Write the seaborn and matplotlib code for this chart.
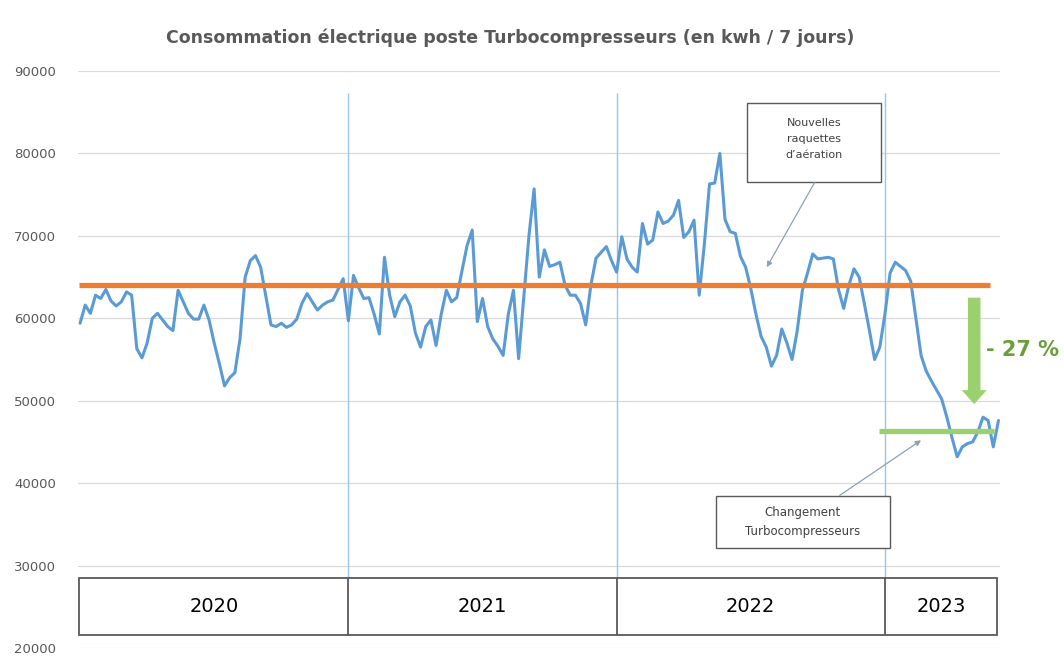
import numpy as np
import pandas as pd
import matplotlib
matplotlib.use('Agg')
import matplotlib.pyplot as plt
import seaborn as sns
from matplotlib.patches import Rectangle

# consommation hebdomadaire (kwh / 7 jours), de janvier 2020 a mai 2023
conso = [59400, 61600, 60600, 62800, 62400, 63500, 62100, 61500, 62000, 63200,
         62800, 56300, 55200, 57000, 60000, 60600, 59800, 59000, 58500, 63400,
         62000, 60600, 59900, 59900, 61600, 59800, 57000, 54500, 51800, 52800,
         53400, 57500, 65000, 67000, 67600, 66200, 62700, 59200, 59000, 59400,
         58900, 59200, 59900, 61800, 63000, 62000, 61000, 61600, 62000, 62200,
         63500, 64800, 59700, 65200, 63700, 62400, 62500, 60500, 58100, 67400,
         62800, 60200, 62000, 62800, 61500, 58200, 56500, 59000, 59800, 56700,
         60500, 63400, 62000, 62500, 65700, 68800, 70700, 59600, 62400, 59000,
         57500, 56600, 55500, 60500, 63400, 55100, 62500, 70000, 75700, 65000,
         68300, 66300, 66500, 66800, 64000, 62800, 62800, 61800, 59200, 64000,
         67300, 68000, 68700, 67000, 65600, 69900, 67200, 66200, 65600, 71500,
         69000, 69500, 72900, 71500, 71800, 72500, 74300, 69800, 70500, 71900,
         62800, 69000, 76300, 76400, 80000, 72000, 70500, 70300, 67500, 66200,
         63600, 60500, 57800, 56500, 54200, 55500, 58700, 57000, 55000, 58500,
         63400, 65500, 67800, 67200, 67300, 67400, 67200, 63500, 61200, 64000,
         66000, 65000, 61800, 58500, 55000, 56500, 60500, 65500, 66800, 66300,
         65800, 64500, 60000, 55500, 53600, 52400, 51300, 50200, 48000, 45500,
         43200, 44400, 44800, 45000, 46200, 48000, 47600, 44400, 47600]

annees = ['2020', '2021', '2022', '2023']
debut_annees = [0, 52, 104, 156]      # semaine de debut de chaque annee
fin_donnees = 177.8
ref_avant = 64000                     # niveau moyen avant changement
ref_apres = 46300                     # niveau apres changement
baisse = '- 27 %'
yticks = [20000, 30000, 40000, 50000, 60000, 70000, 80000, 90000]

df = pd.DataFrame({'semaine': np.arange(len(conso)), 'conso': conso})

sns.set_theme(style='white')
plt.rcParams['font.family'] = ['DejaVu Sans']

gris = '#595959'
bleu = '#5B9BD5'
orange = '#ED7D31'
vert = '#9BD06E'
vert_txt = '#6A9E3A'
fleche = '#8EA0B8'

fig = plt.figure(figsize=(10.64, 6.64), dpi=100)
ax = fig.add_axes([78 / 1064, 1 - 648 / 664, (1000 - 78) / 1064, (648 - 71) / 664])

# grille horizontale
ax.set_ylim(20000, 90000)
ax.set_xlim(-0.4, 178.3)
ax.set_yticks(yticks)
ax.set_yticklabels([str(v) for v in yticks], color=gris, fontsize=9.5)
ax.set_xticks([])
ax.yaxis.grid(True, color='#d9d9d9', lw=0.9)
ax.tick_params(axis='y', length=0, pad=16)
for s in ax.spines.values():
    s.set_visible(False)

# separateurs d'annees
ax.vlines(debut_annees[1:], 28450, 87300, color='#9DC3E6', lw=1, zorder=1)

# tableau des annees
ax.add_patch(Rectangle((-0.2, 21530), fin_donnees + 0.2, 6920, fill=False,
                       ec=gris, lw=1.3, zorder=3))
ax.vlines(debut_annees[1:], 21530, 28450, color=gris, lw=1.3, zorder=3)
bornes = debut_annees + [fin_donnees]
for i, a in enumerate(annees):
    ax.text((bornes[i] + bornes[i + 1]) / 2, 25000, a, ha='center', va='center',
            fontsize=14, color='black')

# courbe de consommation
sns.lineplot(data=df, x='semaine', y='conso', color=bleu, lw=2.2, ax=ax, zorder=4)
ax.set_xlabel('')
ax.set_ylabel('')

# niveaux de reference
ax.hlines(ref_avant, -0.2, 176.3, color=orange, lw=3.8, zorder=5)
ax.hlines(ref_apres, 154.9, 177.2, color=vert, lw=3.8, zorder=5)

# fleche de baisse
ax.annotate('', xy=(173.3, 49600), xytext=(173.3, 62500),
            arrowprops=dict(arrowstyle='simple, head_length=1.0, head_width=1.8, tail_width=0.9',
                            mutation_scale=10, color=vert, lw=0, shrinkA=0, shrinkB=0),
            zorder=6)
ax.text(175.6, 56200, baisse, ha='left', va='center', fontsize=15,
        fontweight='bold', color=vert_txt, clip_on=False)

# encadres d'annotation
ax.add_patch(Rectangle((129.2, 76500), 26.1, 9600, fc='white', ec=gris, lw=1, zorder=7))
ax.text(142.2, 81700, 'Nouvelles\nraquettes\nd\u2019aération', ha='center', va='center',
        fontsize=8, color='#404040', linespacing=1.75, zorder=8)
ax.annotate('', xy=(133.1, 66200), xytext=(142.4, 76500),
            arrowprops=dict(arrowstyle='-|>', color=fleche, lw=0.9,
                            mutation_scale=8, shrinkA=0, shrinkB=0), zorder=7)

ax.add_patch(Rectangle((123.2, 32100), 33.7, 6400, fc='white', ec=gris, lw=1, zorder=7))
ax.text(140.0, 35300, 'Changement\nTurbocompresseurs', ha='center', va='center',
        fontsize=8.5, color='#404040', linespacing=1.65, zorder=8)
ax.annotate('', xy=(163, 45200), xytext=(147.2, 38500),
            arrowprops=dict(arrowstyle='-|>', color=fleche, lw=0.9,
                            mutation_scale=8, shrinkA=0, shrinkB=0), zorder=7)

fig.text(510 / 1064, 1 - 38 / 664,
         'Consommation électrique poste Turbocompresseurs (en kwh / 7 jours)',
         ha='center', va='center', fontsize=12.5, fontweight='bold', color=gris)

fig.savefig('out.png', dpi=100)
